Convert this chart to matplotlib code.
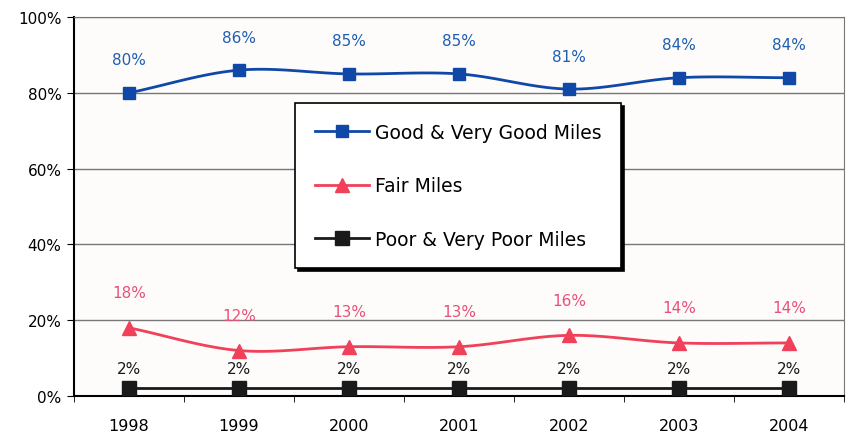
import numpy as np
import matplotlib.pyplot as plt

years = ["1998", "1999", "2000", "2001", "2002", "2003", "2004"]
good_miles = [80, 86, 85, 85, 81, 84, 84]
fair_miles = [18, 12, 13, 13, 16, 14, 14]
poor_miles = [2, 2, 2, 2, 2, 2, 2]

BLUE = "#1048a8"
RED = "#f0405a"
BLACK = "#1a1a1a"

plt.rcParams['font.family'] = ['DejaVu Sans']


def smooth(xs, ys, n=20):
    # Catmull-Rom spline through the points, like a smoothed Excel line
    xs = np.asarray(xs, float)
    ys = np.asarray(ys, float)
    px = np.concatenate([[2 * xs[0] - xs[1]], xs, [2 * xs[-1] - xs[-2]]])
    py = np.concatenate([[2 * ys[0] - ys[1]], ys, [2 * ys[-1] - ys[-2]]])
    ox, oy = [], []
    for i in range(1, len(px) - 2):
        t = np.linspace(0, 1, n)
        for p, out in ((px, ox), (py, oy)):
            p0, p1, p2, p3 = p[i - 1], p[i], p[i + 1], p[i + 2]
            out.extend(0.5 * ((2 * p1) + (-p0 + p2) * t
                              + (2 * p0 - 5 * p1 + 4 * p2 - p3) * t ** 2
                              + (-p0 + 3 * p1 - 3 * p2 + p3) * t ** 3))
    return ox, oy


fig = plt.figure(figsize=(8.48, 4.35), dpi=100)
ax = fig.add_axes([0.0873, 0.0874, 0.908, 0.871])
ax.set_facecolor("#fdfcfa")

x = np.arange(len(years))
series = [
    (good_miles, BLUE, "s", 9, "Good & Very Good Miles", "#1f5fb0", 33),
    (fair_miles, RED, "^", 10, "Fair Miles", "#e8507a", 35),
    (poor_miles, BLACK, "s", 10, "Poor & Very Poor Miles", BLACK, 20),
]
handles = []
for vals, col, mk, ms, name, lab_col, off in series:
    sx, sy = smooth(x, vals)
    ax.plot(sx, sy, color=col, lw=2, zorder=3)
    ax.plot(x, vals, linestyle="none", marker=mk, ms=ms, color=col, zorder=4)
    h, = ax.plot([], [], color=col, lw=2, marker=mk, ms=ms, label=name)
    handles.append(h)
    for xi, v in zip(x, vals):
        ax.annotate(f"{v}%", (xi, v), xytext=(0, off), textcoords="offset pixels",
                    ha="center", va="center", fontsize=11, color=lab_col)

ax.set_xlim(-0.5, len(years) - 0.5)
ax.set_ylim(0, 100)
ax.set_yticks(range(0, 101, 20))
ax.set_yticklabels([f"{v}%" for v in range(0, 101, 20)], fontsize=11)
ax.set_xticks(x)
ax.set_xticklabels(years, fontsize=11.5)
ax.set_xticks(np.arange(-0.5, len(years), 1), minor=True)
ax.tick_params(axis="x", which="major", length=0, pad=16)
ax.tick_params(axis="x", which="minor", length=4, direction="out")
ax.tick_params(axis="y", length=5, direction="out", pad=4)
ax.grid(axis="y", color="#777777", lw=1)
ax.set_axisbelow(True)
for side in ("left", "bottom"):
    ax.spines[side].set_color("black")
    ax.spines[side].set_linewidth(1.5)
for side in ("top", "right"):
    ax.spines[side].set_color("#777777")

leg = fig.legend(handles=handles, loc="upper left",
                 bbox_to_anchor=(295 / 848, 1 - 104 / 435),
                 fontsize=13.5, frameon=True, fancybox=False,
                 shadow={"color": "black", "alpha": 1},
                 borderpad=1.05, labelspacing=1.84, handlelength=2.9,
                 handletextpad=0.3, borderaxespad=0)
leg.get_frame().set_edgecolor("black")
leg.get_frame().set_linewidth(1.2)

fig.savefig("out.png", dpi=100, facecolor="white")
